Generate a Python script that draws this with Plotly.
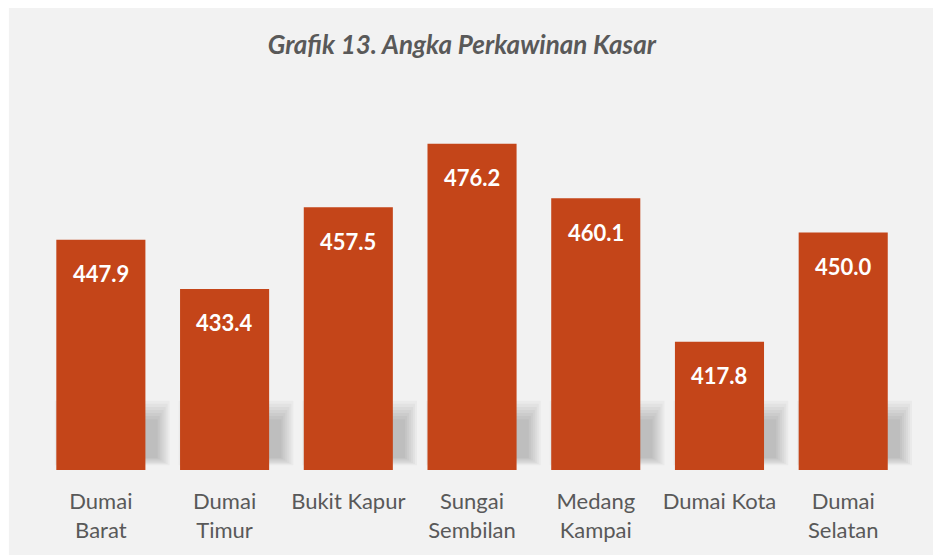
"""Grafik 13 – Angka Perkawinan Kasar (bar chart)."""

import plotly.graph_objects as go

# ── Data ──────────────────────────────────────────────────────────────────────
kecamatan = [
    "Dumai<br>Barat",
    "Dumai<br>Timur",
    "Bukit Kapur",
    "Sungai<br>Sembilan",
    "Medang<br>Kampai",
    "Dumai Kota",
    "Dumai<br>Selatan",
]
angka_perkawinan = [447.9, 433.4, 457.5, 476.2, 460.1, 417.8, 450.0]
label_nilai = ["447.9", "433.4", "457.5", "476.2", "460.1", "417.8", "450.0"]

# ── Style ─────────────────────────────────────────────────────────────────────
BAR_COLOR = "#C44519"
TEXT_GRAY = "#595959"
PANEL_BG = "#F2F2F2"
FONT = "Lato"
Y_RANGE = [380, 500]
BAR_WIDTH = 0.72

fig = go.Figure()

# bars start at the axis floor, so y holds the height above it
fig.add_trace(
    go.Bar(
        x=kecamatan,
        y=[v - Y_RANGE[0] for v in angka_perkawinan],
        base=Y_RANGE[0],
        width=BAR_WIDTH,
        marker={"color": BAR_COLOR, "line": {"width": 0}},
        customdata=angka_perkawinan,
        hovertemplate="%{x}: %{customdata}<extra></extra>",
        showlegend=False,
    )
)

# ── Value labels inside the bars ──────────────────────────────────────────────
for cat, val, txt in zip(kecamatan, angka_perkawinan, label_nilai):
    fig.add_annotation(
        x=cat,
        y=val,
        text=txt,
        showarrow=False,
        yanchor="middle",
        yshift=-34,
        font={"family": FONT, "size": 22, "color": "white", "weight": "bold"},
    )

# ── Soft shadow behind the feet of the bars (decoration) ─────────────────────
# stacked faint rectangles fake a blur: each ring grows a little
for i in range(len(kecamatan)):
    for k in range(7):
        fig.add_shape(
            type="rect",
            xref="x",
            yref="y",
            x0=i - BAR_WIDTH / 2 + 0.06 - 0.012 * k,
            x1=i + BAR_WIDTH / 2 + 0.10 + 0.016 * k,
            y0=383.5 - 0.35 * k,
            y1=395.0 + 0.9 * k,
            fillcolor="rgba(0,0,0,0.032)",
            line={"width": 0},
            layer="below",
        )

# ── Grey panel (white strip left/top like the source slide) ──────────────────
fig.add_shape(
    type="rect",
    xref="paper",
    yref="paper",
    x0=-0.0345,
    x1=1.05,
    y0=-0.25,
    y1=1.135,
    fillcolor=PANEL_BG,
    line={"width": 0},
    layer="below",
)

# ── Layout ────────────────────────────────────────────────────────────────────
fig.update_layout(
    width=933,
    height=555,
    margin={"l": 39, "r": 21, "t": 63, "b": 85},
    paper_bgcolor="white",
    plot_bgcolor="rgba(0,0,0,0)",
    title={
        "text": "Grafik 13. Angka Perkawinan Kasar",
        "x": 0.495,
        "xanchor": "center",
        "y": 0.919,
        "yanchor": "middle",
        "font": {
            "family": FONT,
            "size": 26,
            "color": TEXT_GRAY,
            "style": "italic",
            "weight": "bold",
        },
    },
    font={"family": FONT, "color": TEXT_GRAY},
)
fig.update_xaxes(
    type="category",
    showline=False,
    showgrid=False,
    ticks="outside",
    ticklen=12,
    tickcolor="rgba(0,0,0,0)",
    tickfont={"family": FONT, "size": 22, "color": TEXT_GRAY},
)
fig.update_yaxes(
    range=Y_RANGE,
    visible=False,
    showgrid=False,
    zeroline=False,
)

# drop the default 8px page margin so the figure fills the window exactly
fig.write_html(
    "out.html",
    config={"displayModeBar": False},
    post_script="document.body.style.margin='0';document.body.style.overflow='hidden';",
)
